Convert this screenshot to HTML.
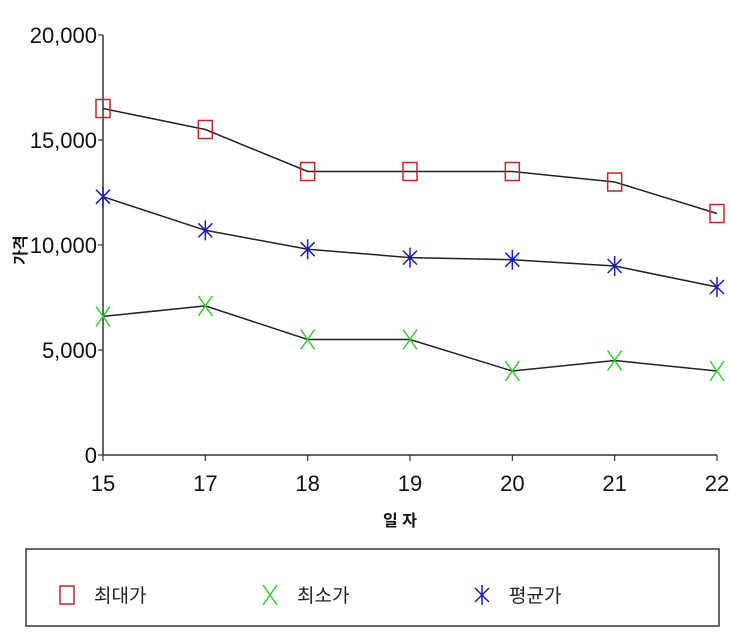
<!DOCTYPE html>
<html><head><meta charset="utf-8"><style>
body{margin:0;background:#fff;}
text{font-family:"Liberation Sans","Noto Sans CJK KR",sans-serif;}
.tk{font-family:"Liberation Sans Narrow","Liberation Sans",sans-serif;}
</style></head><body>
<svg id="c" width="730" height="630"></svg>
<script>
const categories=["15","17","18","19","20","21","22"];
const maxVals=[16500,15500,13500,13500,13500,13000,11500];
const minVals=[6600,7100,5500,5500,4000,4500,4000];
const avgVals=[12300,10700,9800,9400,9300,9000,8000];
const yTicks=[0,5000,10000,15000,20000];
const yTickLabels=["0","5,000","10,000","15,000","20,000"];
const NS="http://www.w3.org/2000/svg";
const svg=document.getElementById('c');
const x0=103,x1=717,y0=455,y1=35;
const xs=i=>x0+(x1-x0)*i/(categories.length-1);
const ys=v=>y0-(y0-y1)*v/20000;
function el(t,a,p){const e=document.createElementNS(NS,t);for(const k in a)e.setAttribute(k,a[k]);(p||svg).appendChild(e);return e;}
let e;
e=el('line',{x1:x0,y1:y1,x2:x0,y2:y0,stroke:'#333','stroke-width':1.5});

e=el('line',{x1:x0,y1:y0,x2:x1,y2:y0,stroke:'#333','stroke-width':1.5});

yTicks.forEach((v,i)=>{
 el('line',{x1:x0-5,y1:ys(v),x2:x0,y2:ys(v),stroke:'#333','stroke-width':1.2});
 e=el('text',{x:x0-6,y:ys(v)+8,'text-anchor':'end','font-size':22,fill:'#111',class:'tk'});
 e.textContent=yTickLabels[i];
 
});
categories.forEach((c,i)=>{
 el('line',{x1:xs(i),y1:y0,x2:xs(i),y2:y0+6,stroke:'#333','stroke-width':1.2});
 e=el('text',{x:xs(i),y:y0+36,'text-anchor':'middle','font-size':22,fill:'#111',class:'tk'});
 e.textContent=c;
 
});
e=el('text',{x:400,y:526,'text-anchor':'middle','font-size':16,'font-weight':'bold',fill:'#111'});
e.textContent='일 자';
e=el('text',{x:0,y:0,'text-anchor':'middle','font-size':16,'font-weight':'bold',fill:'#111',transform:'translate(26,250) rotate(-90)'});
e.textContent='가격';
function marker(type,x,y,g){
 if(type==='sq'){el('rect',{x:x-7,y:y-9,width:14,height:18,fill:'none',stroke:'#c0272d','stroke-width':1.5},g);}
 else if(type==='x'){el('path',{d:`M${x-7} ${y-10}L${x+7} ${y+10}M${x+7} ${y-10}L${x-7} ${y+10}`,stroke:'#3c3','stroke-width':1.5},g);}
 else {el('path',{d:`M${x} ${y-10}V${y+10}M${x-7} ${y-7}L${x+7} ${y+7}M${x+7} ${y-7}L${x-7} ${y+7}`,stroke:'#1a1ac0','stroke-width':1.5},g);}
}
[[maxVals,'sq','series-max'],[avgVals,'st','series-avg'],[minVals,'x','series-min']].forEach(([vals,t,n])=>{
 const g=el('g',{});
 el('polyline',{points:vals.map((v,i)=>xs(i)+','+ys(v)).join(' '),fill:'none',stroke:'#222','stroke-width':1.5},g);
 vals.forEach((v,i)=>marker(t,xs(i),ys(v),g));
});
const lg=el('g',{});
el('rect',{x:26,y:549,width:693,height:77,fill:'#fff',stroke:'#333','stroke-width':1.5},lg);
[['sq','최대가',67],['x','최소가',270],['st','평균가',482]].forEach(([t,l,x])=>{
 const g=el('g',{},lg);
 marker(t,x,595,g);
 const tx=el('text',{x:x+27,y:602,'font-size':19,fill:'#222'},g);tx.textContent=l;
});
</script>
</body></html>
